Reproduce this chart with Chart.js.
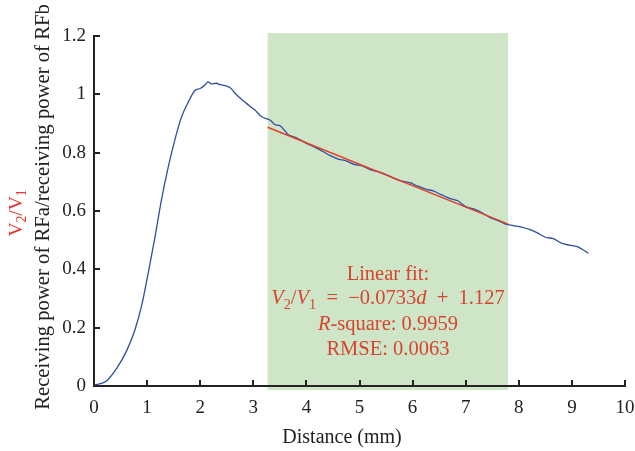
<!DOCTYPE html>
<html>
<head>
<meta charset="utf-8">
<script src="https://cdn.jsdelivr.net/npm/chart.js@4.4.1/dist/chart.umd.min.js"></script>
<style>
  html, body { margin: 0; padding: 0; background: #fff; }
  #wrap { width: 635px; height: 451px; position: relative; }
</style>
</head>
<body>
<div id="wrap"><canvas id="fitChart"></canvas></div>
<script>
// measured curve
const distance = [0, 0.12, 0.24, 0.43, 0.62, 0.77, 0.9, 1.02, 1.15, 1.27, 1.4, 1.53, 1.65, 1.78, 1.9, 2.0, 2.08, 2.15, 2.22, 2.3,
  2.38, 2.47, 2.57, 2.66, 2.81, 2.92, 3.03, 3.16, 3.32, 3.42, 3.5, 3.58, 3.66, 3.78, 3.9, 4.0, 4.15, 4.3, 4.45, 4.6,
  4.75, 4.9, 5.05, 5.2, 5.35, 5.5, 5.65, 5.8, 5.95, 6.1, 6.25, 6.4, 6.55, 6.7, 6.85, 7.0, 7.15, 7.3, 7.45, 7.6,
  7.75, 7.9, 8.05, 8.2, 8.35, 8.5, 8.65, 8.8, 8.95, 9.1, 9.2, 9.31];
const ratio = [0.003, 0.008, 0.018, 0.061, 0.123, 0.192, 0.278, 0.386, 0.512, 0.638, 0.752, 0.849, 0.923, 0.975, 1.013, 1.02, 1.03, 1.043, 1.035, 1.038,
  1.033, 1.03, 1.022, 1.003, 0.978, 0.962, 0.946, 0.923, 0.911, 0.895, 0.893, 0.878, 0.861, 0.853, 0.842, 0.832, 0.82, 0.805, 0.79, 0.778,
  0.772, 0.76, 0.755, 0.742, 0.735, 0.725, 0.712, 0.702, 0.697, 0.685, 0.675, 0.668, 0.655, 0.643, 0.635, 0.615, 0.607, 0.595, 0.578, 0.568,
  0.555, 0.55, 0.545, 0.537, 0.525, 0.51, 0.505, 0.49, 0.483, 0.478, 0.468, 0.455];

// linear fit segment and shaded fit range
const fitX = [3.27, 7.8];
const fitY = [0.887, 0.555];
const fitRange = [3.27, 7.8];

const xTicks = [0, 1, 2, 3, 4, 5, 6, 7, 8, 9, 10];
const yTicks = [0, 0.2, 0.4, 0.6, 0.8, 1, 1.2];

const SERIF = '"Liberation Serif", "DejaVu Serif", serif';
const RED = '#d8442f';

function toPoints(xs, ys) {
  return xs.map((x, i) => ({ x: x, y: ys[i] }));
}

// draws a sequence of text pieces (italic / subscript) centred on x
function drawRuns(ctx, runs, cx, cy, size) {
  let total = 0;
  runs.forEach(r => {
    ctx.font = (r.it ? 'italic ' : '') + (r.sub ? size * 0.7 : size) + 'px ' + SERIF;
    r.w = ctx.measureText(r.t).width;
    total += r.w;
  });
  let x = cx - total / 2;
  runs.forEach(r => {
    ctx.font = (r.it ? 'italic ' : '') + (r.sub ? size * 0.7 : size) + 'px ' + SERIF;
    ctx.fillText(r.t, x, cy + (r.sub ? size * 0.3 : 0));
    x += r.w;
  });
}

const decorPlugin = {
  id: 'decor',
  beforeDraw(chart) {
    const { ctx, scales } = chart;
    const x = scales.x, y = scales.y;
    ctx.save();
    ctx.fillStyle = 'rgb(206,229,200)';
    const l = x.getPixelForValue(fitRange[0]);
    const r = x.getPixelForValue(fitRange[1]);
    const t = y.getPixelForValue(1.2) - 3;
    const b = y.getPixelForValue(0) + 4;
    ctx.fillRect(l, t, r - l, b - t);
    ctx.restore();
  },
  afterDraw(chart) {
    const { ctx, scales, chartArea } = chart;
    const x = scales.x, y = scales.y;
    ctx.save();
    // inward ticks
    ctx.strokeStyle = '#222';
    ctx.lineWidth = 2;
    xTicks.forEach(v => {
      const px = Math.round(x.getPixelForValue(v));
      ctx.beginPath();
      ctx.moveTo(px, chartArea.bottom);
      ctx.lineTo(px, chartArea.bottom - 6);
      ctx.stroke();
    });
    yTicks.forEach(v => {
      const py = Math.round(y.getPixelForValue(v));
      ctx.beginPath();
      ctx.moveTo(chartArea.left, py);
      ctx.lineTo(chartArea.left + 6, py);
      ctx.stroke();
    });

    // annotation in the fit range
    const cx = (x.getPixelForValue(fitRange[0]) + x.getPixelForValue(fitRange[1])) / 2;
    const fs = 20.5;
    ctx.fillStyle = RED;
    ctx.textBaseline = 'middle';
    ctx.textAlign = 'left';
    drawRuns(ctx, [{ t: 'Linear fit:' }], cx, 275, fs);
    drawRuns(ctx, [{ t: 'V', it: true }, { t: '2', sub: true }, { t: '/' }, { t: 'V', it: true }, { t: '1', sub: true },
      { t: '\u2002=\u2002\u22120.0733' }, { t: 'd', it: true }, { t: '\u2002+\u20021.127' }], cx, 299, fs);
    drawRuns(ctx, [{ t: 'R', it: true }, { t: '-square: 0.9959' }], cx, 325, fs);
    drawRuns(ctx, [{ t: 'RMSE: 0.0063' }], cx, 350, fs);

    // x title
    ctx.fillStyle = '#222';
    ctx.textAlign = 'center';
    ctx.font = '20px ' + SERIF;
    ctx.fillText('Distance (mm)', 342, 438);

    // y title (two lines, rotated)
    ctx.save();
    ctx.translate(44, 207);
    ctx.rotate(-Math.PI / 2);
    ctx.textAlign = 'center';
    ctx.fillStyle = '#222';
    ctx.font = '20.7px ' + SERIF;
    ctx.fillText('Receiving power of RFa/receiving power of RFb', 0, 0);
    ctx.restore();

    ctx.save();
    ctx.translate(17, 213);
    ctx.rotate(-Math.PI / 2);
    ctx.textAlign = 'left';
    ctx.fillStyle = '#e8322a';
    drawRuns(ctx, [{ t: 'V' }, { t: '2', sub: true }, { t: '/' }, { t: 'V' }, { t: '1', sub: true }], 0, 0, 19.5);
    ctx.restore();

    ctx.restore();
  }
};

const ctx = document.getElementById('fitChart').getContext('2d');

const config = {
  type: 'scatter',
  data: {
    datasets: [{
      label: 'Linear fit',
      data: toPoints(fitX, fitY),
      showLine: true,
      borderColor: '#e0402a',
      borderWidth: 1.5,
      pointRadius: 0
    }, {
      label: 'Measured',
      data: toPoints(distance, ratio),
      showLine: true,
      borderColor: '#2f4ea3',
      borderWidth: 1.3,
      cubicInterpolationMode: 'monotone',
      pointRadius: 0
    }]
  },
  options: {
    responsive: true,
    maintainAspectRatio: false,
    animation: false,
    layout: {
      padding: { top: 36, right: 10, left: 0, bottom: 0 }
    },
    scales: {
      x: {
        type: 'linear',
        min: 0,
        max: 10,
        afterFit: s => { s.height = 65; s.paddingLeft = 0; s.paddingRight = 0; },
        afterBuildTicks: s => { s.ticks = xTicks.map(v => ({ value: v })); },
        grid: { display: true, drawOnChartArea: false, drawTicks: false },
        border: { display: true, color: '#222', width: 2 },
        ticks: {
          padding: 11,
          color: '#222',
          font: { family: SERIF, size: 19 },
          maxRotation: 0
        }
      },
      y: {
        type: 'linear',
        min: 0,
        max: 1.2,
        afterFit: s => { s.width = 94; s.paddingTop = 0; s.paddingBottom = 0; },
        afterBuildTicks: s => { s.ticks = yTicks.map(v => ({ value: v })); },
        grid: { display: true, drawOnChartArea: false, drawTicks: false },
        border: { display: true, color: '#222', width: 2 },
        ticks: {
          padding: 8,
          color: '#222',
          font: { family: SERIF, size: 19 },
          callback: v => String(Number(v.toFixed(1)))
        }
      }
    },
    plugins: {
      legend: { display: false },
      tooltip: { enabled: false }
    }
  },
  plugins: [decorPlugin]
};

const fitChart = new Chart(ctx, config);
</script>
</body>
</html>
